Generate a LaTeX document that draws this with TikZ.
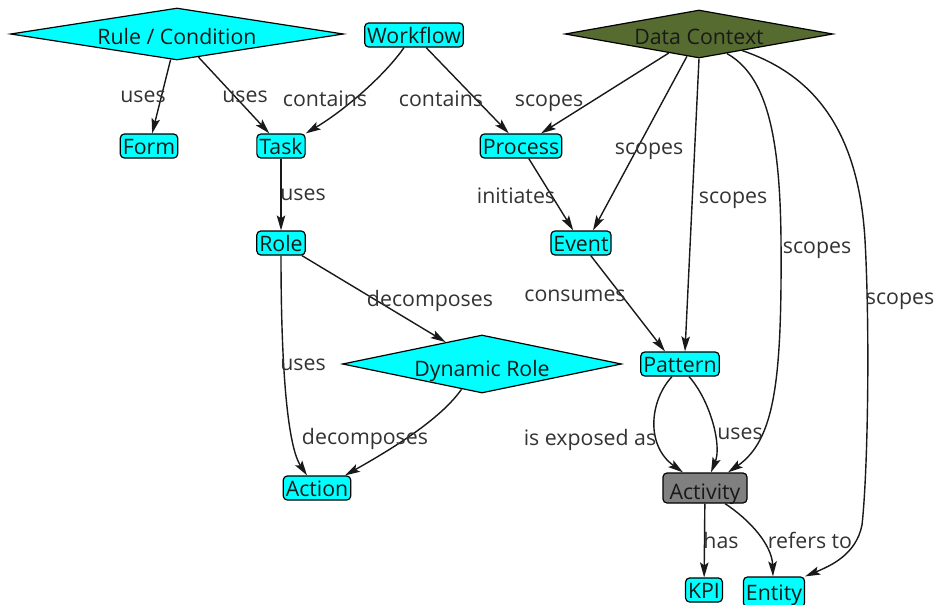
\documentclass[tikz,border=0pt]{standalone}
\usepackage{fontspec}
\setmainfont{Open Sans}
\usetikzlibrary{shapes.geometric,arrows.meta}
\definecolor{boxcyan}{HTML}{00FFFF}
\definecolor{ctxolive}{HTML}{556B2F}
\definecolor{actgray}{HTML}{808080}
\definecolor{labelgray}{HTML}{333333}
\begin{document}
\begin{tikzpicture}[x=1pt,y=-1pt,
  every node/.style={font=\fontsize{21.3}{25}\selectfont},
  concept/.style={draw=black, line width=1.2pt, rounded corners=4pt, fill=boxcyan,
    inner xsep=2.5pt, inner ysep=0pt, minimum height=24pt,
    text height=18pt, text depth=2pt, text=black!90},
  tall/.style={minimum height=30pt, text height=24pt, text depth=2pt},
  decision/.style={diamond, draw=black, line width=1.2pt, inner sep=0pt,
    text height=20pt, text depth=0pt, text=black!90},
  link/.style={draw=black!90, line width=1.4pt,
    -{Stealth[length=15pt,width=8.5pt,inset=3pt]}},
  lbl/.style={text=labelgray, inner sep=0pt, anchor=base}]
\useasboundingbox (0,0) rectangle (937,605);
\fill[white] (0,0) rectangle (937,605);

% decision shapes
\node[decision, fill=boxcyan, aspect=6.4, minimum width=333pt, minimum height=52pt] (rule) at (177,34) {Rule / Condition};
\node[decision, fill=ctxolive, aspect=5.58, minimum width=268pt, minimum height=48pt] (dc) at (699,34) {Data Context};
\node[decision, fill=boxcyan, aspect=4.81, minimum width=279pt, minimum height=58pt,
  text height=24pt] (dyn) at (482,364) {Dynamic Role};

% concept boxes
\node[concept] (workflow) at (414,35) {Workflow};
\node[concept] (form) at (149,146) {Form};
\node[concept] (task) at (281,146) {Task};
\node[concept] (process) at (521,146) {Process};
\node[concept] (role) at (281,243) {Role};
\node[concept] (event) at (581,243) {Event};
\node[concept] (pattern) at (680,364) {Pattern};
\node[concept] (action) at (317,488) {Action};
\node[concept, tall, fill=actgray, minimum width=84pt] (activity) at (705,488) {Activity};
\node[concept] (kpi) at (704,590) {KPI};
\node[concept, tall, text height=20pt, text depth=4pt] (entity) at (774,592) {Entity};

% connectors
\draw[link] (rule) -- (form) node[lbl, at={(143,102)}] {uses};
\draw[link] (rule) -- (task) node[lbl, at={(245,102)}] {uses};
\draw[link] ([xshift=-10pt]workflow.south) .. controls (385,75) and (345,110) .. (task.north east)
  node[lbl, at={(325,106)}] {contains};
\draw[link] (workflow) -- (process) node[lbl, at={(441,106)}] {contains};
\draw[link] (dc) -- (process) node[lbl, at={(549,106)}] {scopes};
\draw[link] (dc) -- ([xshift=12pt]event.north) node[lbl, at={(649,154)}] {scopes};
\draw[link] (dc.south) -- ([xshift=5pt]pattern.north) node[lbl, at={(733,203)}] {scopes};
\draw[link] (dc.-35) .. controls (765,75) and (780,130) .. (781,240)
  .. controls (782,380) and (775,440) .. ([xshift=23pt]activity.north)
  node[lbl, at={(817,253)}] {scopes};
\draw[link] (dc.-21) .. controls (805,72) and (858,120) .. (865,240)
  .. controls (870,330) and (868,470) .. (862,525)
  .. controls (856,555) and (830,566) .. (entity.north east)
  node[lbl, at={(900,304)}] {scopes};
\draw[link] (task) -- (role) node[lbl, at={(303,200)}] {uses};
\draw[link] (process) -- (event) node[lbl, at={(516,203)}] {initiates};
\draw[link] (role) -- (dyn) node[lbl, at={(430,306)}] {decomposes};
\draw[link] (role.south) .. controls (281,390) and (290,450) .. ([xshift=-10pt]action.north)
  node[lbl, at={(303,370)}] {uses};
\draw[link] (dyn.-129) .. controls (440,420) and (390,450) .. ([xshift=28pt]action.north)
  node[lbl, at={(365,444)}] {decomposes};
\draw[link] (event) -- ([xshift=-15pt]pattern.north) node[lbl, at={(575,301)}] {consumes};
\draw[link] ([xshift=-8pt]pattern.south) .. controls (650,400) and (645,445) .. ([xshift=-22pt]activity.north)
  node[lbl, at={(590,445)}] {is exposed as};
\draw[link] ([xshift=9pt]pattern.south) .. controls (710,400) and (722,445) .. ([xshift=6pt]activity.north)
  node[lbl, at={(740,439)}] {uses};
\draw[link] (activity) -- (kpi) node[lbl, at={(721,548)}] {has};
\draw[link] ([xshift=20pt]activity.south) .. controls (750,520) and (772,545) .. ([xshift=-1pt]entity.north)
  node[lbl, at={(810,548)}] {refers to};
\end{tikzpicture}
\end{document}
